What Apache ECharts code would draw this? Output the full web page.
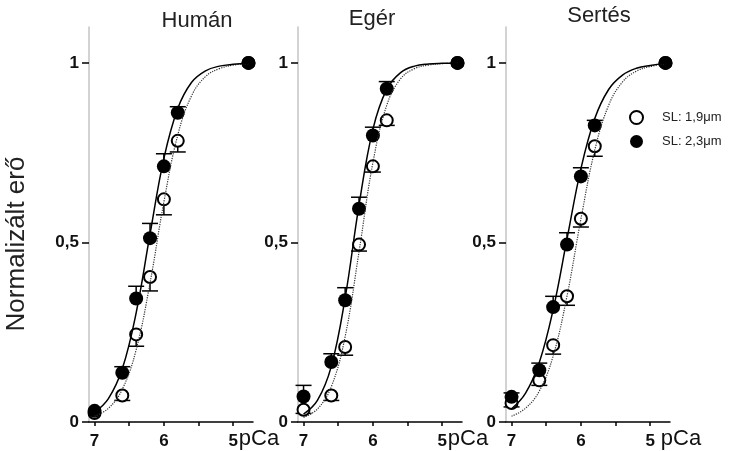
<!DOCTYPE html>
<html>
<head>
    <meta charset="utf-8">
    <title>pCa - erő</title>
    <script src="https://cdn.jsdelivr.net/npm/echarts@6/dist/echarts.min.js"></script>
    <style>
        html, body { margin: 0; padding: 0; background: #fff; }
    </style>
</head>
<body>
<div id="main" style="width: 729px;height:451px;"></div>
<script type="text/javascript">
    // mért pontok (pCa)
    var pCaPoints = [7.0, 6.6, 6.4, 6.2, 6.0, 5.8, 4.78];

    // Humán
    var humanFilled = [0.031, 0.137, 0.344, 0.512, 0.712, 0.861, 1.0];
    var humanFilledErr = [0, 0.017, 0.034, 0.041, 0.035, 0.017, 0];
    var humanOpen = [0.025, 0.074, 0.244, 0.404, 0.620, 0.783, 1.0];
    var humanOpenErr = [0, 0.014, 0.033, 0.039, 0.043, 0.031, 0];

    // Egér
    var egerFilled = [0.071, 0.167, 0.339, 0.594, 0.798, 0.928, 1.0];
    var egerFilledErr = [0.031, 0.023, 0.035, 0.032, 0.023, 0.020, 0];
    var egerOpen = [0.034, 0.074, 0.209, 0.494, 0.712, 0.840, 1.0];
    var egerOpenErr = [0.010, 0.014, 0.023, 0.018, 0.016, 0.014, 0];

    // Sertés
    var sertesFilled = [0.070, 0.144, 0.320, 0.494, 0.684, 0.826, 1.0];
    var sertesFilledErr = [0.011, 0.020, 0.030, 0.033, 0.024, 0.014, 0];
    var sertesOpen = [0.053, 0.116, 0.214, 0.350, 0.566, 0.768, 1.0];
    var sertesOpenErr = [0.011, 0.014, 0.025, 0.025, 0.023, 0.028, 0];

    // illesztett görbék
    var curvePCa = [7.0, 6.8, 6.6, 6.4, 6.2, 6.0, 5.8, 5.6, 5.4, 5.2, 5.0, 4.78];
    var humanSolid = [0.027, 0.065, 0.148, 0.304, 0.523, 0.734, 0.873, 0.946, 0.978, 0.991, 0.996, 0.999];
    var humanDotted = [0.016, 0.038, 0.091, 0.201, 0.387, 0.613, 0.799, 0.909, 0.962, 0.984, 0.994, 0.998];
    var egerSolid = [0.022, 0.060, 0.155, 0.346, 0.604, 0.815, 0.927, 0.973, 0.991, 0.997, 0.999, 1.0];
    var egerDotted = [0.013, 0.036, 0.098, 0.238, 0.474, 0.722, 0.882, 0.956, 0.984, 0.994, 0.998, 1.0];
    var sertesSolid = [0.037, 0.080, 0.166, 0.313, 0.510, 0.705, 0.845, 0.926, 0.966, 0.985, 0.993, 0.998];
    var sertesDotted = [0.016, 0.038, 0.086, 0.184, 0.351, 0.565, 0.757, 0.882, 0.947, 0.977, 0.990, 0.997];

    var panelTitles = ['Humán', 'Egér', 'Sertés'];
    var xTicks = [5, 5.5, 6, 6.5, 7];
    var xTickLabels = [5, 6, 7];
    var yTickLabels = [0, 0.5, 1];
    var seriesNames = ['SL: 1,9μm', 'SL: 2,3μm'];

    var panels = [
        {filled: humanFilled, filledErr: humanFilledErr, open: humanOpen, openErr: humanOpenErr, solid: humanSolid, dotted: humanDotted},
        {filled: egerFilled, filledErr: egerFilledErr, open: egerOpen, openErr: egerOpenErr, solid: egerSolid, dotted: egerDotted},
        {filled: sertesFilled, filledErr: sertesFilledErr, open: sertesOpen, openErr: sertesOpenErr, solid: sertesSolid, dotted: sertesDotted}
    ];

    var FONT = 'Liberation Sans, Arial, sans-serif';
    var gridLefts = [89, 298, 506];

    var myChart = echarts.init(document.getElementById('main'));

    function pairs(xs, ys) {
        return xs.map(function (x, i) { return [x, ys[i]]; });
    }
    function triples(xs, ys, es) {
        return xs.map(function (x, i) { return [x, ys[i], es[i]]; });
    }
    // hibasáv: kitöltött felfelé, üres lefelé
    function errorRender(dir) {
        return function (params, api) {
            var x = api.value(0), y = api.value(1), e = api.value(2);
            if (!e) return null;
            var p0 = api.coord([x, y]);
            var p1 = api.coord([x, y + dir * e]);
            var st = {stroke: '#000', lineWidth: 1.5};
            return {
                type: 'group',
                children: [
                    {type: 'line', shape: {x1: p0[0], y1: p0[1], x2: p1[0], y2: p1[1]}, style: st},
                    {type: 'line', shape: {x1: p1[0] - 8, y1: p1[1], x2: p1[0] + 8, y2: p1[1]}, style: st}
                ]
            };
        };
    }

    var grids = [], xAxes = [], yAxes = [], series = [];
    panels.forEach(function (p, i) {
        grids.push({left: gridLefts[i], top: 27, width: 164, height: 395});
        xAxes.push({
            gridIndex: i, type: 'value', inverse: true, min: 4.715, max: 7.08,
            splitLine: {show: false},
            axisLine: {onZero: false, lineStyle: {color: '#000', width: 1.5}},
            axisTick: {customValues: xTicks, length: 4, lineStyle: {color: '#000', width: 1.5}},
            axisLabel: {
                customValues: xTickLabels, margin: 6,
                formatter: function (v) {
                    if (v === 5) return (i === 2 ? '{s2|}{n|5}{p2|pCa}' : '{s|}{n|5}{p|pCa}');
                    return '{n|' + v + '}';
                },
                rich: {
                    n: {fontSize: 17, fontWeight: 'bold', fontFamily: FONT, color: '#111', lineHeight: 22, verticalAlign: 'bottom'},
                    p: {fontSize: 22, fontFamily: FONT, color: '#111', width: 42, lineHeight: 22, verticalAlign: 'bottom'},
                    p2: {fontSize: 22, fontFamily: FONT, color: '#111', width: 42, padding: [0, 0, 0, 5], lineHeight: 22, verticalAlign: 'bottom'},
                    s: {width: 42},
                    s2: {width: 47}
                }
            }
        });
        yAxes.push({
            gridIndex: i, type: 'value', min: 0, max: 1.1,
            splitLine: {show: false},
            axisLine: {show: true, onZero: false, lineStyle: {color: '#c4c4c4', width: 1.5}},
            axisTick: {show: true, customValues: yTickLabels, length: 7, lineStyle: {color: '#000', width: 1.5}},
            axisLabel: {
                customValues: yTickLabels, margin: 10,
                fontSize: 17, fontWeight: 'bold', fontFamily: FONT, color: '#111',
                formatter: function (v) { return String(v).replace('.', ','); }
            }
        });

        series.push({
            type: 'custom', name: 'err-open-' + i, xAxisIndex: i, yAxisIndex: i, z: 2,
            renderItem: errorRender(-1), encode: {x: 0, y: 1},
            data: triples(pCaPoints, p.open, p.openErr), silent: true
        });
        series.push({
            type: 'custom', name: 'err-filled-' + i, xAxisIndex: i, yAxisIndex: i, z: 2,
            renderItem: errorRender(1), encode: {x: 0, y: 1},
            data: triples(pCaPoints, p.filled, p.filledErr), silent: true
        });
        series.push({
            type: 'scatter', name: seriesNames[0], xAxisIndex: i, yAxisIndex: i, z: 3,
            symbol: 'circle', symbolSize: 12,
            itemStyle: {color: '#fff', borderColor: '#000', borderWidth: 2, opacity: 1},
            data: pairs(pCaPoints, p.open)
        });
        series.push({
            type: 'scatter', name: seriesNames[1], xAxisIndex: i, yAxisIndex: i, z: 4,
            symbol: 'circle', symbolSize: 14,
            itemStyle: {color: '#000', opacity: 1},
            data: pairs(pCaPoints, p.filled)
        });
        series.push({
            type: 'line', name: 'fit-dotted-' + i, xAxisIndex: i, yAxisIndex: i, z: 5,
            smooth: 0.4, showSymbol: false, symbol: 'none', silent: true,
            lineStyle: {color: '#333', width: 1.2, type: 'dotted'},
            data: pairs(curvePCa, p.dotted)
        });
        series.push({
            type: 'line', name: 'fit-solid-' + i, xAxisIndex: i, yAxisIndex: i, z: 5,
            smooth: 0.4, showSymbol: false, symbol: 'none', silent: true,
            lineStyle: {color: '#000', width: 1.5},
            data: pairs(curvePCa, p.solid)
        });
    });

    var option = {
        animation: false,
        backgroundColor: '#fff',
        grid: grids,
        xAxis: xAxes,
        yAxis: yAxes,
        legend: {
            data: seriesNames, orient: 'vertical', left: 629, top: 110,
            itemWidth: 13, itemHeight: 13, itemGap: 10, icon: 'circle',
            selectedMode: false, padding: 0,
            textStyle: {fontSize: 13, color: '#222', fontFamily: FONT, padding: [0, 0, 0, 14]}
        },
        graphic: [
            {type: 'text', x: 197, y: 21, style: {text: panelTitles[0], font: '22px ' + FONT, fill: '#222', textAlign: 'center', textVerticalAlign: 'middle'}},
            {type: 'text', x: 372, y: 19, style: {text: panelTitles[1], font: '22px ' + FONT, fill: '#222', textAlign: 'center', textVerticalAlign: 'middle'}},
            {type: 'text', x: 599, y: 16, style: {text: panelTitles[2], font: '22px ' + FONT, fill: '#222', textAlign: 'center', textVerticalAlign: 'middle'}},
            {type: 'text', x: 17, y: 244, rotation: Math.PI / 2, style: {text: 'Normalizált erő', font: '26px ' + FONT, fill: '#222', textAlign: 'center', textVerticalAlign: 'middle'}}
        ],
        series: series
    };

    myChart.setOption(option);
</script>
</body>
</html>
